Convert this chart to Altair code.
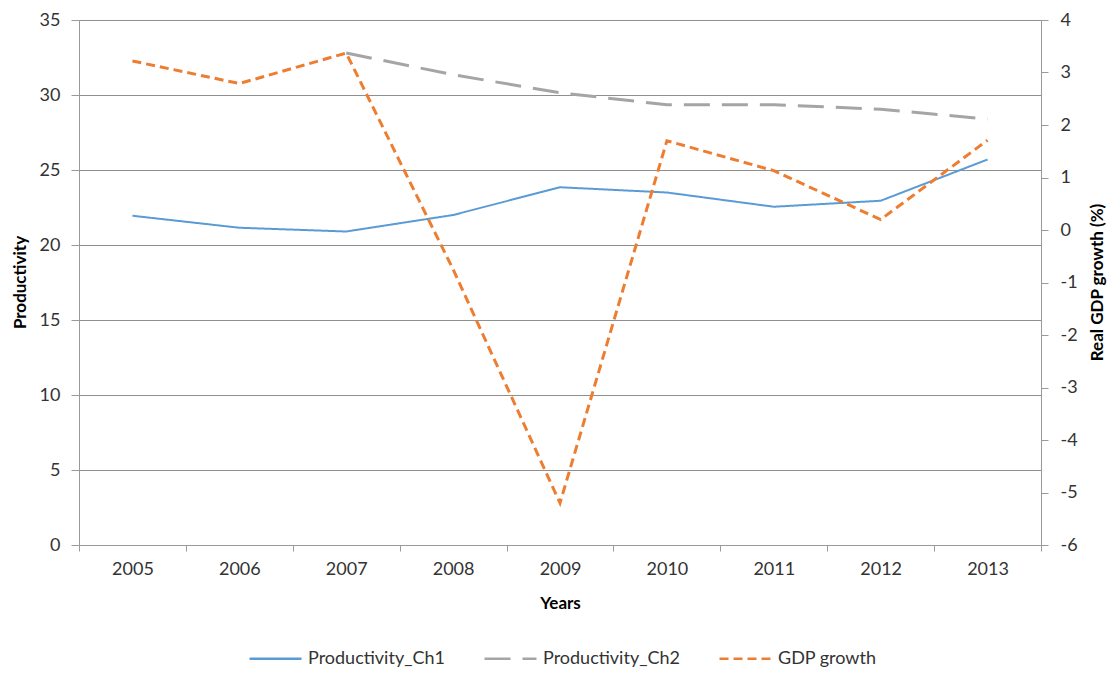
import altair as alt
import pandas as pd

# Series values per year
years = [2005, 2006, 2007, 2008, 2009, 2010, 2011, 2012, 2013]
productivity_ch1 = [21.95, 21.15, 20.9, 22.0, 23.85, 23.5, 22.55, 22.95, 25.7]
productivity_ch2 = [None, None, 32.8, 31.35, 30.15, 29.35, 29.35, 29.05, 28.4]
gdp_growth = [3.22, 2.79, 3.37, -0.75, -5.2, 1.7, 1.13, 0.2, 1.71]

series_names = ["Productivity_Ch1", "Productivity_Ch2", "GDP growth"]
series_colors = ["#5b9bd5", "#a5a5a5", "#ed7d31"]
series_dashes = [[1, 0], [26, 12], [9, 5]]

left_ticks = [0, 5, 10, 15, 20, 25, 30, 35]
right_ticks = [-6, -5, -4, -3, -2, -1, 0, 1, 2, 3, 4]


def frame(values, name):
    rows = [
        {"year": str(y), "value": v, "series": name}
        for y, v in zip(years, values)
        if v is not None
    ]
    return pd.DataFrame(rows)


FONT = "Lato"
LABEL_COLOR = "#333333"
AXIS_GRAY = "#9a9a9a"

x_enc = alt.X(
    "year:O",
    bandPosition=0.5,
    scale=alt.Scale(type="band", paddingInner=0, paddingOuter=0),
    axis=alt.Axis(
        title="Years",
        tickBand="extent",
        labelAngle=0,
        tickSize=6,
        labelPadding=9,
        titleX=481,
        titleY=58,
        titleAlign="center",
        titleBaseline="middle",
    ),
)

color_enc = alt.Color(
    "series:N",
    scale=alt.Scale(domain=series_names, range=series_colors),
    legend=alt.Legend(title=None),
)
dash_enc = alt.StrokeDash(
    "series:N",
    scale=alt.Scale(domain=series_names, range=series_dashes),
    legend=alt.Legend(title=None),
)

left_y = alt.Y(
    "value:Q",
    scale=alt.Scale(domain=[0, 35], nice=False, zero=False),
    axis=alt.Axis(
        title="Productivity",
        values=left_ticks,
        grid=True,
        tickSize=8,
        labelPadding=11,
        titleX=-59,
        titleY=262,
        titleAngle=270,
        titleAlign="center",
        titleBaseline="middle",
    ),
)

right_y = alt.Y(
    "value:Q",
    scale=alt.Scale(domain=[-6, 4], nice=False, zero=False),
    axis=alt.Axis(
        title="Real GDP growth (%)",
        orient="right",
        values=right_ticks,
        labelExpr="'' + datum.value",
        grid=False,
        tickSize=7,
        labelPadding=12,
        titleX=56,
        titleY=262,
        titleAngle=270,
        titleAlign="center",
        titleBaseline="middle",
    ),
)

ch1 = alt.Chart(frame(productivity_ch1, series_names[0])).mark_line(
    strokeWidth=2
).encode(x=x_enc, y=left_y, color=color_enc, strokeDash=dash_enc)

ch2 = alt.Chart(frame(productivity_ch2, series_names[1])).mark_line(
    strokeWidth=3
).encode(x=x_enc, y=left_y, color=color_enc, strokeDash=dash_enc)

gdp = alt.Chart(frame(gdp_growth, series_names[2])).mark_line(
    strokeWidth=3
).encode(x=x_enc, y=right_y, color=color_enc, strokeDash=dash_enc)

left = alt.layer(ch1, ch2)

chart = (
    alt.layer(left, gdp)
    .resolve_scale(y="independent")
    .properties(
        width=962,
        height=525,
        autosize=alt.AutoSizeParams(type="none"),
        padding={"left": 79, "top": 20, "right": 74, "bottom": 130},
        background="white",
    )
    .configure_view(stroke=None)
    .configure_axis(
        labelFont=FONT,
        labelFontSize=18,
        labelColor=LABEL_COLOR,
        titleFont=FONT,
        titleFontSize=17,
        titleFontWeight="bold",
        titleColor="#000000",
        domainColor=AXIS_GRAY,
        tickColor=AXIS_GRAY,
        gridColor="#8f8f8f",
        gridWidth=1,
    )
    .configure_legend(
        orient="none",
        legendX=169,
        legendY=611,
        direction="horizontal",
        symbolType="stroke",
        symbolSize=2700,
        symbolStrokeWidth=2.5,
        labelFont=FONT,
        labelFontSize=18,
        labelColor=LABEL_COLOR,
        labelOffset=5,
        columnPadding=34,
    )
)

chart.save("out.html", embed_options={"renderer": "svg", "actions": False})
